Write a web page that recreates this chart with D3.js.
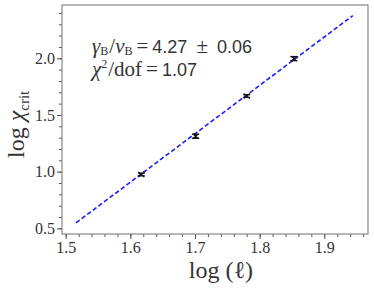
<!DOCTYPE html>
<meta charset="utf-8">
<style>
  body { margin: 0; background: #fff; }
  .tick text { font-family: "Liberation Serif", "DejaVu Serif", serif; font-size: 16px; fill: #333; }
  .lab { font-family: "Liberation Serif", "DejaVu Serif", serif; fill: #333; }
  .num { font-family: "Liberation Sans", sans-serif; font-size: 18px; }
  .gr { font-style: italic; }
</style>
<svg width="374" height="293"></svg>
<script src="https://cdn.jsdelivr.net/npm/d3@7/dist/d3.min.js"></script>
<script>
// data
var logL = [1.617, 1.701, 1.780, 1.853],
    logChi = [0.975, 1.312, 1.667, 1.997],
    errChi = [0.012, 0.018, 0.012, 0.018];
var slope = 4.27, intercept = -5.925, fitRange = [1.516, 1.944];
var xTicks = [1.5, 1.6, 1.7, 1.8, 1.9],
    yTicks = [0.5, 1.0, 1.5, 2.0];

var svg = d3.select("svg"),
    margin = {top: 5, right: 6, bottom: 59, left: 62},
    width = +svg.attr("width") - margin.left - margin.right,
    height = +svg.attr("height") - margin.top - margin.bottom,
    g = svg.append("g").attr("transform", "translate(" + margin.left + "," + margin.top + ")");

var x = d3.scaleLinear().domain([1.4943, 1.9676]).range([0, width]);
var y = d3.scaleLinear().domain([0.45, 2.47]).range([height, 0]);

function grey(a) { a.select(".domain").remove(); a.selectAll("line").attr("stroke", "#555"); }

// minor ticks
g.append("g")
  .attr("transform", "translate(0," + height + ")")
  .call(d3.axisBottom(x).tickValues(d3.range(1.50, 1.965, 0.02)).tickSize(3).tickFormat(""))
  .call(grey);
g.append("g")
  .call(d3.axisLeft(y).tickValues(d3.range(0.5, 2.46, 0.1)).tickSize(3).tickFormat(""))
  .call(grey);

// major ticks
g.append("g")
  .attr("transform", "translate(0," + height + ")")
  .call(d3.axisBottom(x).tickValues(xTicks).tickSize(5).tickPadding(3).tickFormat(d3.format(".1f")))
  .call(grey);
g.append("g")
  .call(d3.axisLeft(y).tickValues(yTicks).tickSize(5).tickPadding(2).tickFormat(d3.format(".1f")))
  .call(grey);

// frame
g.append("rect")
  .attr("width", width).attr("height", height)
  .attr("fill", "none").attr("stroke", "#888").attr("stroke-width", 1.2);

// fit line
var line = d3.line().x(function(d) { return x(d); }).y(function(d) { return y(slope * d + intercept); });
g.append("path")
  .datum(fitRange)
  .attr("d", line)
  .attr("fill", "none")
  .attr("stroke", "#1a1aff")
  .attr("stroke-width", 1.6)
  .attr("stroke-dasharray", "4.5,2.5");

// points with error bars
var pts = g.selectAll(".pt").data(logL).enter().append("g")
  .attr("transform", function(d, i) { return "translate(" + x(d) + "," + y(logChi[i]) + ")"; })
  .attr("stroke", "#111").attr("stroke-width", 1.3);
pts.append("line").attr("x1", 0).attr("x2", 0)
  .attr("y1", function(d, i) { return y(logChi[i] + errChi[i]) - y(logChi[i]); })
  .attr("y2", function(d, i) { return y(logChi[i] - errChi[i]) - y(logChi[i]); });
[-1, 1].forEach(function(s) {
  pts.append("line").attr("x1", -3.5).attr("x2", 3.5)
    .attr("y1", function(d, i) { return y(logChi[i] + s * errChi[i]) - y(logChi[i]); })
    .attr("y2", function(d, i) { return y(logChi[i] + s * errChi[i]) - y(logChi[i]); });
});
pts.append("path").attr("d", "M-3,-2.5L3,2.5M-3,2.5L3,-2.5").attr("stroke-width", 1.1);

// annotation (two lines in one text)
var t = svg.append("text").attr("class", "lab").attr("x", 92).attr("y", 53).attr("font-size", 21);
t.append("tspan").attr("class", "gr").text("γ");
t.append("tspan").attr("font-size", 12).attr("dy", 1.5).text("B");
t.append("tspan").attr("dy", -1.5).attr("dx", 1).text("/");
t.append("tspan").attr("class", "gr").text("ν");
t.append("tspan").attr("font-size", 12).attr("dy", 1.5).text("B");
t.append("tspan").attr("dy", -1.5).attr("dx", 4).text("=");
t.append("tspan").attr("class", "num").attr("dx", 4).text("4.27");
t.append("tspan").attr("dx", 9).text("±");
t.append("tspan").attr("class", "num").attr("dx", 9).text("0.06");

t.append("tspan").attr("class", "gr").attr("x", 92).attr("dy", 23).text("χ");
t.append("tspan").attr("font-size", 12).attr("dy", -8).text("2");
t.append("tspan").attr("dy", 8).attr("dx", 1).text("/dof");
t.append("tspan").attr("dx", 4).text("=");
t.append("tspan").attr("class", "num").attr("dx", 4).text("1.07");

// axis labels
svg.append("text").attr("class", "lab")
  .attr("x", margin.left + x(1.74)).attr("y", 278)
  .attr("text-anchor", "middle").attr("font-size", 24)
  .text("log (ℓ)");

var yl = svg.append("text").attr("class", "lab")
  .attr("transform", "translate(24,158) rotate(-90)")
  .attr("font-size", 24);
yl.append("tspan").text("log ");
yl.append("tspan").attr("class", "gr").text("χ");
yl.append("tspan").attr("font-size", 15).attr("dy", 5).text("crit");
</script>
